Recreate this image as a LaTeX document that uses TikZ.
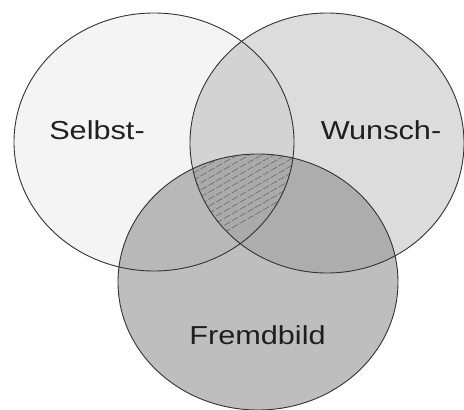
\documentclass[tikz,border=0pt]{standalone}
\usepackage{fontspec}
\setmainfont{Liberation Sans}
\usetikzlibrary{positioning}

\definecolor{selbstfill}{HTML}{F4F4F4}
\definecolor{wunschfill}{HTML}{DCDCDC}
\definecolor{fremdfill}{HTML}{BEBEBE}
\definecolor{swfill}{HTML}{D3D3D3}
\definecolor{sffill}{HTML}{B8B8B8}
\definecolor{wffill}{HTML}{ADADAD}
\definecolor{allfill}{HTML}{AAAAAA}

\newcommand{\selbstpath}{(154,142) ellipse [x radius=140, y radius=129]}
\newcommand{\wunschpath}{(327,143) ellipse [x radius=137, y radius=130]}
\newcommand{\fremdpath}{(258,282) ellipse [x radius=140, y radius=128]}

\begin{document}
\begin{tikzpicture}[
  x=1pt, y=-1pt,
  ring/.style={draw=black!80, line width=0.9pt},
  hatch/.style={draw=black!70, line width=0.35pt, dash pattern=on 7pt off 2pt},
  label/.style={font=\fontsize{26}{30}\selectfont, text=black!88}
]
  \useasboundingbox (0,0) rectangle (464,410);
  \fill[white] (0,0) rectangle (464,410);

  % Flaechen
  \fill[selbstfill] \selbstpath;
  \fill[wunschfill] \wunschpath;
  \fill[fremdfill] \fremdpath;

  % Ueberschneidungen
  \begin{scope}
    \clip \selbstpath;
    \fill[swfill] \wunschpath;
    \fill[sffill] \fremdpath;
  \end{scope}
  \begin{scope}
    \clip \wunschpath;
    \fill[wffill] \fremdpath;
  \end{scope}
  \begin{scope}
    \clip \selbstpath;
    \clip \wunschpath;
    \fill[allfill] \fremdpath;
    \clip \fremdpath;
    \foreach \k in {0,...,16}
      \draw[hatch] (185,255-7*\k) -- ++(125,-72);
  \end{scope}

  % Umrisse
  \draw[ring] \selbstpath;
  \draw[ring] \wunschpath;
  \draw[ring] \fremdpath;

  % Beschriftung
  \node[label] (selbst) at (97,130) {\scalebox{1.18}[1]{Selbst-}};
  \node[label] (wunsch) at (381,130) {\scalebox{1.18}[1]{Wunsch-}};
  \node[label] (fremd) at (257.5,335) {\scalebox{1.18}[1]{Fremdbild}};
\end{tikzpicture}
\end{document}
